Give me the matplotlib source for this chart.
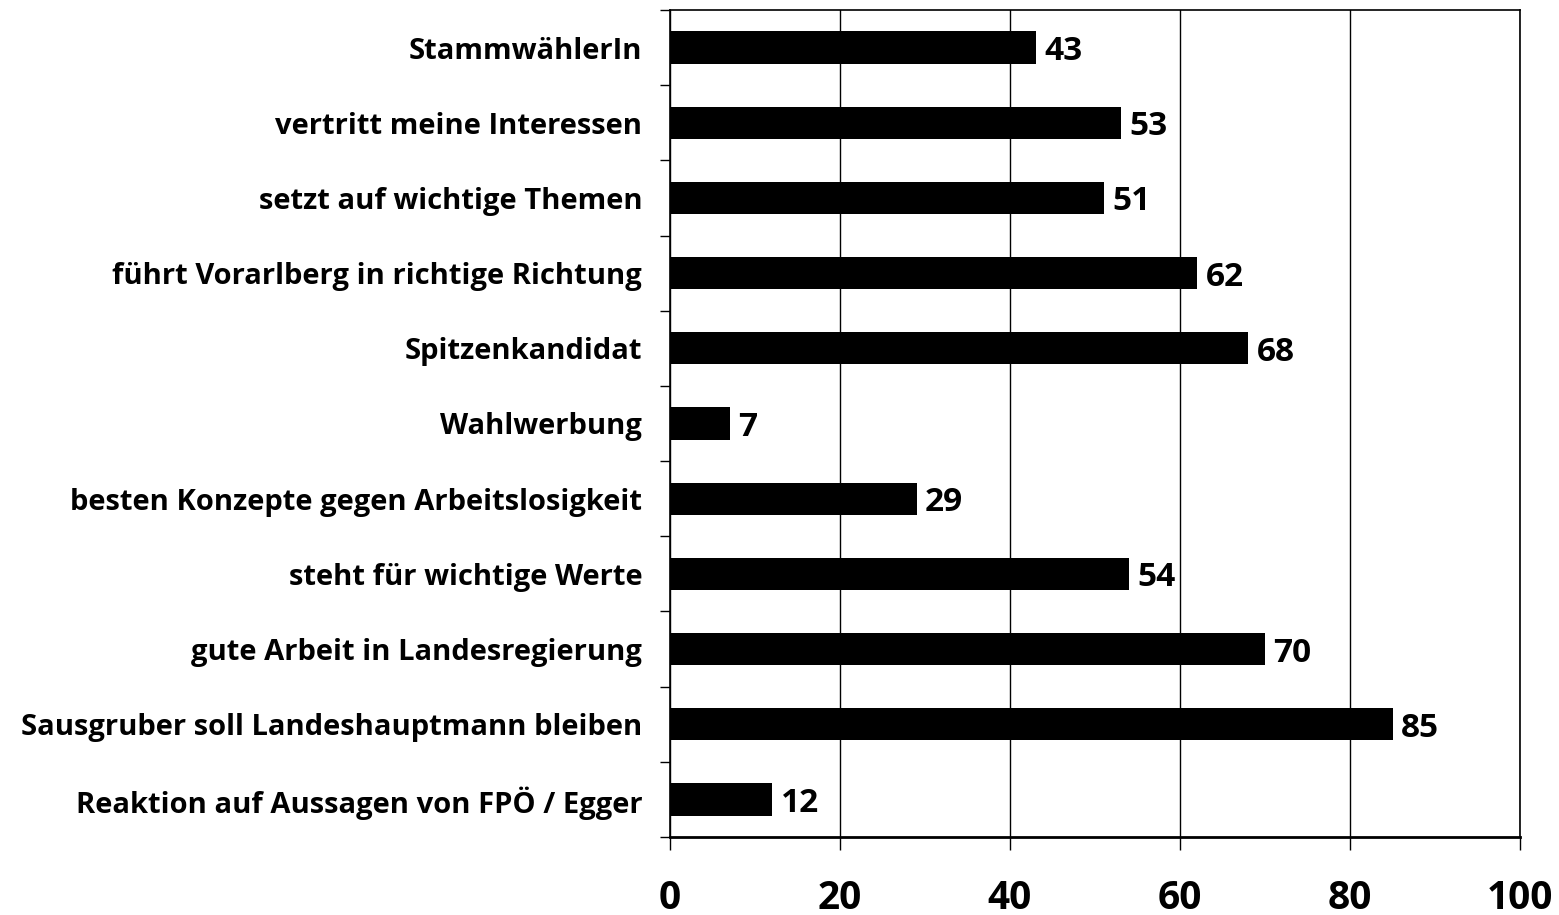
import numpy as np
import matplotlib.pyplot as plt

categories = [
    'StammwählerIn',
    'vertritt meine Interessen',
    'setzt auf wichtige Themen',
    'führt Vorarlberg in richtige Richtung',
    'Spitzenkandidat',
    'Wahlwerbung',
    'besten Konzepte gegen Arbeitslosigkeit',
    'steht für wichtige Werte',
    'gute Arbeit in Landesregierung',
    'Sausgruber soll Landeshauptmann bleiben',
    'Reaktion auf Aussagen von FPÖ / Egger',
]
values = [43, 53, 51, 62, 68, 7, 29, 54, 70, 85, 12]
xticks = [0, 20, 40, 60, 80, 100]

fig = plt.figure(figsize=(15.59, 9.15), dpi=100)
ax = fig.add_axes([670 / 1559, 78 / 915, 850 / 1559, 827 / 915])

y = np.arange(len(categories))
ax.barh(y, values, height=0.43, color='black', zorder=3)
ax.set_ylim(len(categories) - 0.5, -0.5)
ax.set_xlim(0, 100)

for yi, v in zip(y, values):
    ax.text(v + 1, yi, str(v), va='center_baseline', ha='left', fontsize=24,
            fontweight='bold', family='Open Sans', zorder=4)

ax.set_yticks(y)
ax.set_yticklabels(categories, fontsize=21, fontweight='bold', family='Open Sans')
ax.tick_params(axis='y', which='major', length=0, pad=20)
ax.set_yticks(np.arange(-0.5, len(categories)), minor=True)
ax.tick_params(axis='y', which='minor', length=7, width=1)

ax.set_xticks(xticks)
ax.set_xticklabels([str(t) for t in xticks], fontsize=28, fontweight='bold', family='Open Sans')
ax.tick_params(axis='x', length=9, width=1, pad=21)

ax.grid(axis='x', color='black', linewidth=1, zorder=1)
for s in ['top', 'right', 'left']:
    ax.spines[s].set_linewidth(1.2)
ax.spines['bottom'].set_linewidth(2)

fig.savefig('out.png', dpi=100)
